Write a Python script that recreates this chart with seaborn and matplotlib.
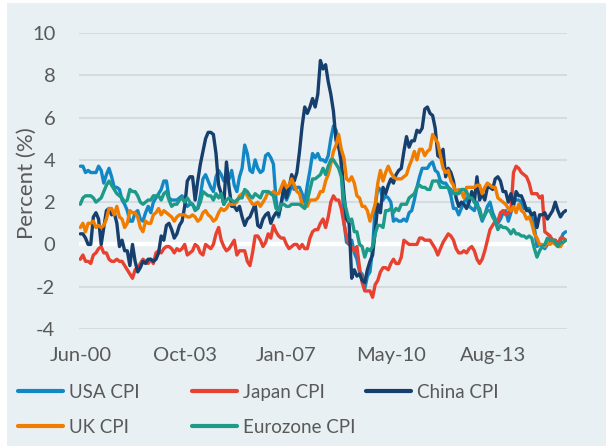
import numpy as np
import pandas as pd
import matplotlib
matplotlib.use("Agg")
import matplotlib.pyplot as plt
import seaborn as sns
from matplotlib.patches import Rectangle
from matplotlib.lines import Line2D

# ---------------- data (monthly, year-on-year %, Jun-2000 .. Dec-2015) ----------------
start_month = "2000-06"
series_names = ["USA CPI", "Japan CPI", "China CPI", "UK CPI", "Eurozone CPI"]
tick_labels = ["Jun-00", "Oct-03", "Jan-07", "May-10", "Aug-13"]
y_ticks = [-4, -2, 0, 2, 4, 6, 8, 10]

usa_cpi = [
    3.7, 3.7, 3.4, 3.5, 3.4, 3.4, 3.4,
    3.7, 3.5, 2.9, 3.3, 3.6, 3.2, 2.7, 2.7, 2.6, 2.1, 1.9, 1.6,
    1.1, 1.1, 1.5, 1.6, 1.2, 1.1, 1.5, 1.8, 1.5, 2.0, 2.2, 2.4,
    2.6, 3.0, 3.0, 2.2, 2.1, 2.1, 2.1, 2.2, 2.3, 2.0, 1.8, 1.9,
    1.9, 1.7, 1.7, 2.3, 3.1, 3.3, 3.0, 2.7, 2.5, 3.2, 3.5, 3.3,
    3.0, 3.0, 3.1, 3.5, 2.8, 2.5, 3.2, 3.6, 4.7, 4.3, 3.5, 3.4,
    4.0, 3.6, 3.4, 3.5, 4.2, 4.3, 4.1, 3.8, 2.1, 1.3, 2.0, 2.5,
    2.1, 2.4, 2.8, 2.6, 2.7, 2.7, 2.4, 2.0, 2.8, 3.5, 4.3, 4.1,
    4.3, 4.0, 4.0, 3.9, 4.2, 5.0, 5.6, 5.4, 4.9, 3.7, 1.1, 0.1,
    0.0, 0.2, -0.4, -0.7, -1.3, -1.4, -2.1, -1.5, -1.3, -0.2, 1.8, 2.7,
    2.6, 2.1, 2.3, 2.2, 2.0, 1.1, 1.2, 1.1, 1.1, 1.2, 1.1, 1.5,
    1.6, 2.1, 2.7, 3.2, 3.6, 3.6, 3.6, 3.8, 3.9, 3.5, 3.4, 3.0,
    2.9, 2.9, 2.7, 2.3, 1.7, 1.7, 1.4, 1.7, 2.0, 2.2, 1.8, 1.7,
    1.6, 2.0, 1.5, 1.1, 1.4, 1.8, 2.0, 1.5, 1.2, 1.0, 1.2, 1.5,
    1.6, 1.1, 1.5, 2.0, 2.1, 2.1, 2.0, 1.7, 1.7, 1.7, 1.3, 0.8,
    -0.1, 0.0, -0.1, -0.2, 0.0, 0.1, 0.2, 0.2, 0.0, 0.2, 0.5, 0.6,
]

japan_cpi = [
    -0.7, -0.5, -0.8, -0.8, -0.9, -0.5, -0.4,
    -0.2, -0.1, -0.4, -0.4, -0.7, -0.8, -0.8, -0.7, -0.8, -0.8, -1.0, -1.2,
    -1.4, -1.6, -1.2, -1.1, -0.9, -0.7, -0.8, -0.9, -0.7, -0.9, -0.4, -0.3,
    -0.4, -0.2, -0.1, -0.1, -0.2, -0.4, -0.2, -0.3, -0.2, 0.0, -0.5, -0.4,
    -0.3, 0.0, -0.1, -0.4, -0.5, 0.0, -0.1, -0.2, 0.0, 0.5, 0.8, 0.2,
    -0.1, -0.3, -0.2, 0.0, 0.2, -0.5, -0.3, -0.3, -0.3, -0.8, -1.0, -0.4,
    0.4, 0.4, 0.2, -0.1, 0.1, 0.5, 0.3, 0.9, 0.6, 0.4, 0.3, 0.3,
    0.0, -0.2, -0.1, 0.0, 0.0, -0.2, 0.0, -0.2, -0.2, 0.3, 0.6, 0.7,
    0.7, 1.0, 1.2, 0.8, 1.3, 2.0, 2.3, 2.1, 2.1, 1.7, 1.0, 0.4,
    0.0, -0.1, -0.3, -0.1, -1.1, -1.8, -2.2, -2.2, -2.2, -2.5, -1.9, -1.7,
    -1.3, -1.1, -1.1, -1.2, -0.9, -0.7, -0.9, -0.9, -0.6, 0.2, 0.1, 0.0,
    0.0, 0.0, 0.0, 0.3, 0.3, 0.2, 0.2, 0.2, 0.0, -0.2, -0.5, -0.2,
    0.1, 0.3, 0.5, 0.4, 0.2, -0.2, -0.4, -0.4, -0.3, -0.4, -0.2, -0.1,
    -0.3, -0.7, -0.9, -0.7, -0.3, 0.2, 0.7, 0.9, 1.1, 1.1, 1.5, 1.6,
    1.4, 1.5, 1.6, 3.4, 3.7, 3.6, 3.4, 3.3, 3.2, 2.9, 2.4, 2.4,
    2.4, 2.2, 2.3, 0.6, 0.5, 0.4, 0.2, 0.2, 0.0, 0.3, 0.3, 0.2,
]

china_cpi = [
    0.5, 0.5, 0.3, 0.0, 0.0, 1.3, 1.5,
    1.2, 0.0, 0.8, 1.6, 1.7, 1.4, 1.5, 1.0, -0.1, 0.2, -0.3, -0.3,
    -1.0, 0.0, -0.8, -1.3, -1.1, -0.8, -0.9, -0.7, -0.7, -0.8, -0.7, -0.4,
    0.4, 0.2, 0.9, 1.0, 0.7, 0.3, 0.5, 0.9, 1.1, 1.8, 3.0, 3.2,
    3.2, 2.1, 3.0, 3.8, 4.4, 5.0, 5.3, 5.3, 5.2, 4.3, 2.8, 2.4,
    1.9, 3.9, 2.7, 1.8, 1.8, 1.6, 1.8, 1.3, 0.9, 1.2, 1.3, 1.6,
    1.9, 0.9, 0.8, 1.2, 1.4, 1.5, 1.0, 1.3, 1.5, 1.4, 1.9, 2.8,
    2.2, 2.7, 3.3, 3.0, 3.4, 4.4, 5.6, 6.5, 6.2, 6.5, 6.9, 6.5,
    7.1, 8.7, 8.3, 8.5, 7.7, 7.1, 6.3, 4.9, 4.6, 4.0, 2.4, 1.2,
    1.0, -1.6, -1.2, -1.5, -1.4, -1.7, -1.8, -1.2, -0.8, -0.5, 0.6, 1.9,
    1.5, 2.7, 2.4, 2.8, 3.1, 2.9, 3.3, 3.5, 3.6, 4.4, 5.1, 4.6,
    4.9, 4.9, 5.4, 5.3, 5.5, 6.4, 6.5, 6.2, 6.1, 5.5, 4.2, 4.1,
    4.5, 3.2, 3.6, 3.4, 3.0, 2.2, 1.8, 2.0, 1.9, 1.7, 2.0, 2.5,
    2.0, 3.2, 2.1, 2.4, 2.1, 2.7, 2.7, 2.6, 3.1, 3.2, 3.0, 2.5,
    2.5, 2.0, 2.4, 1.8, 2.5, 2.3, 2.3, 2.0, 1.6, 1.6, 1.4, 1.5,
    0.8, 1.4, 1.4, 1.5, 1.2, 1.4, 1.6, 2.0, 1.6, 1.3, 1.5, 1.6,
]

uk_cpi = [
    0.8, 1.0, 0.6, 1.0, 1.0, 1.1, 0.8,
    0.9, 0.8, 0.9, 1.2, 1.7, 1.7, 1.4, 1.8, 1.3, 1.2, 0.8, 1.0,
    1.6, 1.5, 1.5, 1.3, 0.8, 0.6, 1.1, 1.0, 1.0, 1.4, 1.5, 1.7,
    1.4, 1.6, 1.5, 1.4, 1.3, 1.1, 1.3, 1.4, 1.4, 1.4, 1.3, 1.3,
    1.4, 1.3, 1.1, 1.2, 1.5, 1.6, 1.4, 1.3, 1.1, 1.2, 1.5, 1.7,
    1.6, 1.7, 1.9, 1.9, 1.9, 2.0, 2.3, 2.4, 2.5, 2.3, 2.1, 1.9,
    1.9, 2.0, 1.8, 2.0, 2.2, 2.5, 2.4, 2.5, 2.4, 2.4, 2.7, 3.0,
    2.7, 2.8, 3.1, 2.8, 2.5, 2.4, 1.9, 1.8, 1.8, 2.1, 2.1, 2.1,
    2.2, 2.5, 2.5, 3.0, 3.3, 3.8, 4.4, 4.7, 5.2, 4.5, 4.1, 3.1,
    3.0, 3.2, 2.9, 2.3, 2.2, 1.8, 1.8, 1.6, 1.1, 1.5, 1.9, 2.9,
    3.5, 3.0, 3.4, 3.7, 3.4, 3.2, 3.1, 3.1, 3.1, 3.2, 3.3, 3.7,
    4.0, 4.4, 4.0, 4.5, 4.5, 4.2, 4.4, 4.5, 5.2, 5.0, 4.8, 4.2,
    3.6, 3.4, 3.5, 3.0, 2.8, 2.4, 2.6, 2.5, 2.2, 2.7, 2.7, 2.7,
    2.7, 2.8, 2.8, 2.4, 2.7, 2.9, 2.8, 2.7, 2.7, 2.2, 2.1, 2.0,
    1.9, 1.7, 1.6, 1.8, 1.5, 1.9, 1.6, 1.5, 1.2, 1.3, 1.0, 0.5,
    0.3, 0.0, 0.0, -0.1, 0.1, 0.0, 0.1, 0.0, -0.1, -0.1, 0.1, 0.2,
]

eurozone_cpi = [
    1.9, 2.2, 2.3, 2.3, 2.3, 2.2, 2.0,
    2.1, 2.2, 2.5, 2.8, 3.0, 2.8, 2.6, 2.4, 2.3, 2.2, 2.0, 2.1,
    2.6, 2.5, 2.5, 2.3, 2.0, 1.9, 2.0, 2.1, 2.1, 2.3, 2.3, 2.3,
    2.1, 2.4, 2.5, 2.1, 1.8, 1.9, 1.9, 2.1, 2.2, 2.0, 2.2, 2.0,
    1.9, 1.6, 1.7, 2.0, 2.5, 2.4, 2.3, 2.3, 2.1, 2.4, 2.2, 2.4,
    1.9, 2.1, 2.2, 2.1, 2.0, 2.1, 2.2, 2.2, 2.6, 2.5, 2.3, 2.2,
    2.4, 2.3, 2.2, 2.5, 2.5, 2.5, 2.4, 2.3, 1.7, 1.6, 1.9, 1.9,
    1.8, 1.8, 1.9, 1.9, 1.9, 1.9, 1.8, 1.7, 2.1, 2.6, 3.1, 3.1,
    3.2, 3.3, 3.6, 3.3, 3.7, 4.0, 4.0, 3.8, 3.6, 3.2, 2.1, 1.6,
    1.1, 1.2, 0.6, 0.6, 0.0, -0.1, -0.6, -0.2, -0.3, -0.1, 0.5, 0.9,
    0.9, 0.8, 1.6, 1.6, 1.7, 1.5, 1.7, 1.6, 1.9, 1.9, 1.9, 2.2,
    2.3, 2.4, 2.7, 2.8, 2.7, 2.7, 2.6, 2.6, 3.0, 3.0, 3.0, 2.7,
    2.7, 2.7, 2.7, 2.6, 2.4, 2.4, 2.4, 2.6, 2.6, 2.5, 2.2, 2.2,
    2.0, 1.8, 1.7, 1.2, 1.4, 1.6, 1.6, 1.3, 1.1, 0.7, 0.9, 0.8,
    0.8, 0.7, 0.5, 0.7, 0.5, 0.5, 0.4, 0.4, 0.3, 0.4, 0.3, -0.2,
    -0.6, -0.3, -0.1, 0.0, 0.3, 0.2, 0.2, 0.1, -0.1, 0.1, 0.1, 0.2,
]

series_colors = ["#1287C6", "#E8412F", "#163F6D", "#F07C00", "#1E9A89"]

# ---------------- long-form table ----------------
n = len(usa_cpi)
dates = pd.date_range(start_month, periods=n, freq="MS")
month_labels = list(dates.strftime("%b-%y"))
values = [usa_cpi, japan_cpi, china_cpi, uk_cpi, eurozone_cpi]
frames = []
for name, vals in zip(series_names, values):
    frames.append(pd.DataFrame({"idx": np.arange(len(vals)), "value": vals, "series": name}))
df = pd.concat(frames, ignore_index=True)

# ---------------- style ----------------
sns.set_theme(style="white")
plt.rcParams["font.family"] = ["Lato", "DejaVu Sans"]
text_color = "#595959"
panel_color = "#E8F0F3"
grid_color = "#D5DCDF"
tick_fs = 14.5
legend_fs = 13.5
ylabel_fs = 16

W, H = 609, 448
fig = plt.figure(figsize=(W / 100, H / 100), dpi=100, facecolor="white")
fig.patches.append(Rectangle((7 / W, 2 / H), 599 / W, 443 / H, transform=fig.transFigure,
                             facecolor=panel_color, edgecolor="none", zorder=-10))
ax = fig.add_axes([79 / W, 1 - 329 / H, 488 / W, 296 / H])
ax.set_facecolor("none")

sns.lineplot(data=df, x="idx", y="value", hue="series", hue_order=series_names,
             palette=series_colors, linewidth=2.4, ax=ax, legend=False, sort=False)

ax.set_ylim(-4, 10)
ax.set_xlim(-0.5, n - 0.5)
ax.set_yticks(y_ticks)
ax.set_yticklabels([str(t) for t in y_ticks])
ax.set_xticks([month_labels.index(t) for t in tick_labels])
ax.set_xticklabels(tick_labels)
ax.tick_params(axis="y", length=0, pad=17, labelsize=tick_fs, labelcolor=text_color)
ax.tick_params(axis="x", length=0, pad=13, labelsize=tick_fs, labelcolor=text_color)
ax.yaxis.grid(True, color=grid_color, linewidth=1.5, zorder=0)
ax.set_axisbelow(True)
ax.axhline(0, color="white", linewidth=3.2, zorder=1.5)
for s in ax.spines.values():
    s.set_visible(False)
ax.set_xlabel("")
ax.set_ylabel("")
fig.text(27 / W, 1 - 183 / H, "Percent (%)", rotation=90, ha="center", va="center",
         fontsize=ylabel_fs, color=text_color)

# ---------------- legend: three equal-width columns ----------------
handles = [Line2D([], [], color=c, linewidth=3) for c in series_colors]
columns = [[0, 3], [1, 4], [2]]
col_x = [18, 192, 366]
for cols, x0 in zip(columns, col_x):
    fig.legend([handles[i] for i in cols], [series_names[i] for i in cols],
               loc="upper left", bbox_to_anchor=(x0 / W, 1 - 384 / H),
               frameon=False, fontsize=legend_fs, labelcolor=text_color,
               handlelength=2.4, handletextpad=0.3, labelspacing=0.94,
               borderpad=0, borderaxespad=0)

fig.savefig("out.png", dpi=100, facecolor=fig.get_facecolor())
